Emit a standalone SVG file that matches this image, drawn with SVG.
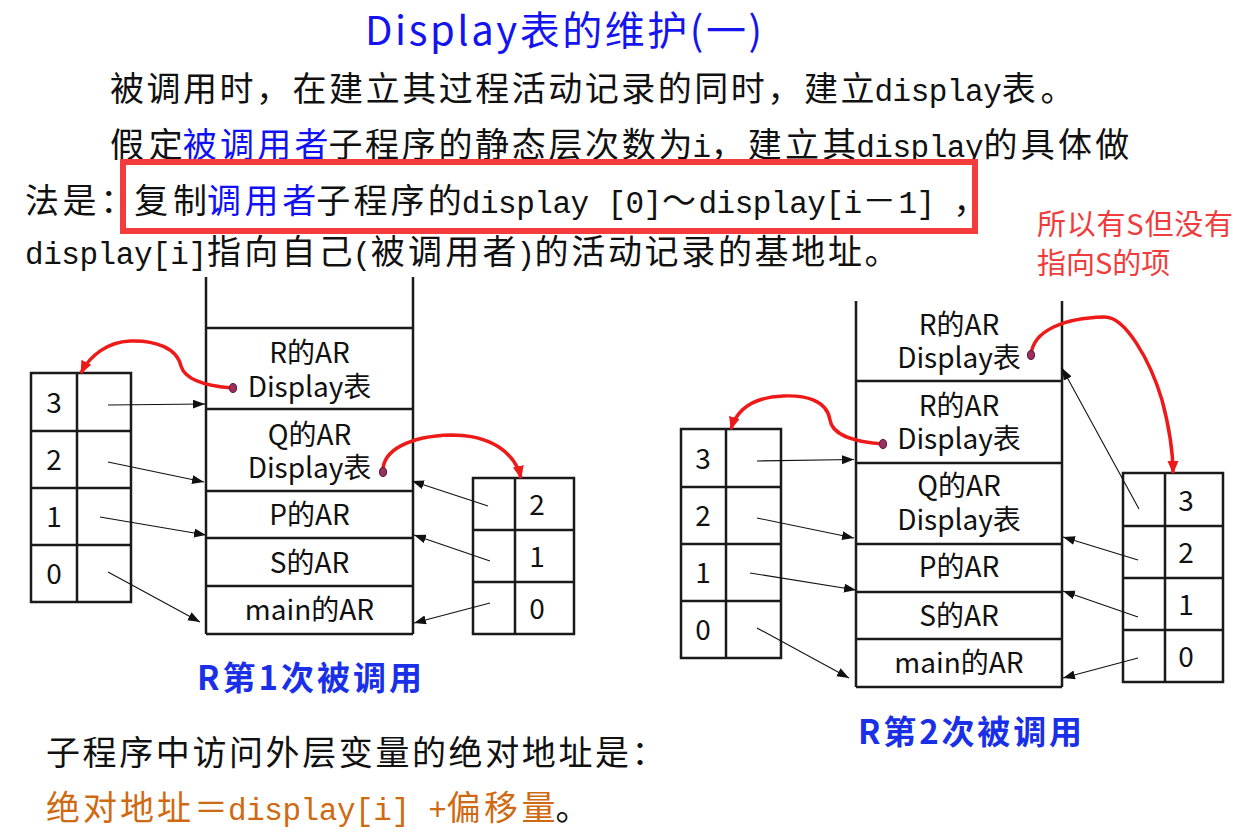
<svg xmlns="http://www.w3.org/2000/svg" width="1246" height="836" viewBox="0 0 1246 836">
  <style>
    .t { font-family: "Noto Sans CJK SC", "Noto Sans", sans-serif; font-size: 34px; fill: #111; }
    .m { font-family: "Liberation Mono", "DejaVu Sans Mono", monospace; font-size: 31px; fill: #111; }
    .blue { fill: #1010f4; }
    .orange { fill: #cf6a12; }
    .lbl { font-family: "Noto Sans CJK SC", "Noto Sans", sans-serif; font-size: 28px; fill: #111; text-anchor: middle; }
    .num { font-family: "Noto Sans CJK SC", "Noto Sans", sans-serif; font-size: 28px; fill: #111; text-anchor: middle; }
    .cap { font-family: "Noto Sans CJK SC", "Noto Sans", sans-serif; font-size: 33px; font-weight: bold; fill: #1a30e8; }
    .note { font-family: "Noto Sans CJK SC", "Noto Sans", sans-serif; font-size: 29px; fill: #f03c3c; }
    .frame { fill: none; stroke: #1a1a1a; stroke-width: 2.5; }
    .ptr { fill: none; stroke: #111; stroke-width: 1.1; marker-end: url(#ah); }
    .link { fill: none; stroke: #ee1a1a; stroke-width: 3.5; marker-end: url(#rah); }
    .dot { fill: #9b3060; stroke: #5b1535; stroke-width: 1; }
  </style>
  <defs>
    <marker id="ah" markerUnits="userSpaceOnUse" markerWidth="13" markerHeight="10" refX="12" refY="4.5" orient="auto">
      <path d="M0,0 L12,4.5 L0,9 z" fill="#111"/>
    </marker>
    <marker id="rah" markerUnits="userSpaceOnUse" markerWidth="14" markerHeight="12" refX="12" refY="5.5" orient="auto">
      <path d="M0,0 L13,5.5 L0,11 z" fill="#ee1a1a"/>
    </marker>
  </defs>

  <rect width="1246" height="836" fill="#fff"/>

  <!-- heading -->
  <text x="365" y="45" font-family="'Noto Sans CJK SC','Noto Sans',sans-serif" font-size="40" fill="#1414f0" textLength="397">Display表的维护(一)</text>

  <!-- explanatory paragraph -->
  <g id="para">
    <text class="t" x="110" y="101" textLength="764.4">被调用时，在建立其过程活动记录的同时，建立</text>
    <text class="m" x="874.4" y="101" textLength="127.4">display</text>
    <text class="t" x="1001.8" y="101" textLength="72.8">表。</text>

    <text class="t" x="110" y="157" textLength="72.8">假定</text>
    <text class="t blue" x="182.8" y="157" textLength="145.6">被调用者</text>
    <text class="t" x="328.4" y="157" textLength="364">子程序的静态层次数为</text>
    <text class="m" x="692.4" y="157">i</text>
    <text class="t" x="710.6" y="157" textLength="145.6">，建立其</text>
    <text class="m" x="856.2" y="157" textLength="127.4">display</text>
    <text class="t" x="983.6" y="157" textLength="145.6">的具体做</text>

    <rect x="123" y="162" width="852" height="69" fill="none" stroke="#f43c3c" stroke-width="6"/>

    <text class="t" x="25" y="213" textLength="109.2">法是：</text>
    <text class="t" x="134.2" y="213" textLength="72.8">复制</text>
    <text class="t blue" x="207" y="213" textLength="109.2">调用者</text>
    <text class="t" x="316.2" y="213" textLength="145.6">子程序的</text>
    <text class="m" x="461.8" y="213" textLength="127.4">display</text>
    <text class="m" x="607.4" y="213" textLength="54.6">[0]</text>
    <text class="t" x="662" y="213">～</text>
    <text class="m" x="698.4" y="213" textLength="163.8">display[i</text>
    <text class="t" x="862.2" y="213">－</text>
    <text class="m" x="898.6" y="213" textLength="36.4">1]</text>
    <text class="t" x="953.2" y="213">，</text>

    <text class="m" x="25" y="264" textLength="182">display[i]</text>
    <text class="t" x="207" y="264" textLength="145.6">指向自己</text>
    <text class="m" x="352.6" y="264">(</text>
    <text class="t" x="370.8" y="264" textLength="145.6">被调用者</text>
    <text class="m" x="516.4" y="264">)</text>
    <text class="t" x="534.6" y="264" textLength="364">的活动记录的基地址。</text>
  </g>

  <g id="note">
    <text class="note" x="1037" y="235" textLength="196">所以有S但没有</text>
    <text class="note" x="1037" y="274">指向S的项</text>
  </g>

  <!-- first call: stack -->
  <g id="stack1">
    <path class="frame" d="M206,277 V634 M413,277 V634 M206,328 H413 M206,409 H413 M206,491 H413 M206,538 H413 M206,586 H413 M206,634 H413"/>
    <text class="lbl" x="309.5" y="363">R的AR</text>
    <text class="lbl" x="309.5" y="397">Display表</text>
    <text class="lbl" x="309.5" y="445">Q的AR</text>
    <text class="lbl" x="309.5" y="478">Display表</text>
    <text class="lbl" x="309.5" y="525">P的AR</text>
    <text class="lbl" x="309.5" y="573">S的AR</text>
    <text class="lbl" x="309.5" y="620">main的AR</text>
  </g>

  <!-- first call: display of R -->
  <g id="disp1R">
    <path class="frame" d="M31,373 H131 V602 H31 Z M77,373 V602 M31,431 H131 M31,488 H131 M31,545 H131"/>
    <text class="num" x="54" y="413">3</text>
    <text class="num" x="54" y="470">2</text>
    <text class="num" x="54" y="527">1</text>
    <text class="num" x="54" y="584">0</text>
  </g>

  <!-- first call: display of Q -->
  <g id="disp1Q">
    <path class="frame" d="M473,478 H574 V634 H473 Z M515,478 V634 M473,530 H574 M473,582 H574"/>
    <text class="num" x="537" y="515">2</text>
    <text class="num" x="537" y="567">1</text>
    <text class="num" x="537" y="619">0</text>
  </g>

  <text id="cap1" class="cap" x="197" y="690" textLength="225">R第1次被调用</text>

  <!-- second call: stack -->
  <g id="stack2">
    <path class="frame" d="M856,301 V687 M1062,301 V687 M856,381 H1062 M856,463 H1062 M856,544 H1062 M856,592 H1062 M856,639 H1062 M856,687 H1062"/>
    <text class="lbl" x="959" y="335">R的AR</text>
    <text class="lbl" x="959" y="368">Display表</text>
    <text class="lbl" x="959" y="416">R的AR</text>
    <text class="lbl" x="959" y="449">Display表</text>
    <text class="lbl" x="959" y="496">Q的AR</text>
    <text class="lbl" x="959" y="530">Display表</text>
    <text class="lbl" x="959" y="577">P的AR</text>
    <text class="lbl" x="959" y="626">S的AR</text>
    <text class="lbl" x="959" y="673">main的AR</text>
  </g>

  <!-- second call: display of the first R -->
  <g id="disp2R1">
    <path class="frame" d="M681,429 H781 V658 H681 Z M726,429 V658 M681,487 H781 M681,544 H781 M681,601 H781"/>
    <text class="num" x="703" y="469">3</text>
    <text class="num" x="703" y="526">2</text>
    <text class="num" x="703" y="583">1</text>
    <text class="num" x="703" y="640">0</text>
  </g>

  <!-- second call: display of the second R -->
  <g id="disp2R2">
    <path class="frame" d="M1123,473 H1223 V682 H1123 Z M1165,473 V682 M1123,526 H1223 M1123,578 H1223 M1123,630 H1223"/>
    <text class="num" x="1186" y="511">3</text>
    <text class="num" x="1186" y="563">2</text>
    <text class="num" x="1186" y="615">1</text>
    <text class="num" x="1186" y="667">0</text>
  </g>

  <text id="cap2" class="cap" x="858" y="744" textLength="224">R第2次被调用</text>

  <!-- pointers and display links -->
  <g id="connectors">
    <line class="ptr" x1="108" y1="405" x2="205" y2="404"/>
    <line class="ptr" x1="108" y1="462" x2="204" y2="482"/>
    <line class="ptr" x1="100" y1="517" x2="206" y2="535"/>
    <line class="ptr" x1="108" y1="572" x2="200" y2="622"/>
    <line class="ptr" x1="488" y1="506" x2="412" y2="481"/>
    <line class="ptr" x1="490" y1="561" x2="414" y2="535"/>
    <line class="ptr" x1="490" y1="603" x2="414" y2="623"/>

    <line class="ptr" x1="757" y1="461" x2="854" y2="459.5"/>
    <line class="ptr" x1="757" y1="518" x2="854" y2="538"/>
    <line class="ptr" x1="750" y1="573" x2="856" y2="590"/>
    <line class="ptr" x1="757" y1="628" x2="849" y2="678"/>
    <line class="ptr" x1="1139" y1="509" x2="1062" y2="368"/>
    <line class="ptr" x1="1138" y1="560" x2="1063" y2="537"/>
    <line class="ptr" x1="1138" y1="617" x2="1063" y2="591"/>
    <line class="ptr" x1="1138" y1="658" x2="1063" y2="678"/>

    <path class="link" d="M233,388 C205,386 185,380 181,366 C177,348 155,340 130,341 C108,342 90,355 81,373"/>
    <path class="link" d="M383,472 C382,450 410,436 451,435 C490,435 515,452 521,478"/>
    <path class="link" d="M1031,355 C1033,330 1065,318 1104,317 C1125,316 1150,360 1162,400 C1170,430 1173,455 1173,473"/>
    <path class="link" d="M883,444 C855,442 832,435 830,420 C827,400 805,395 783,396 C760,397 738,405 731,429"/>

    <ellipse class="dot" cx="233" cy="388" rx="3.5" ry="4.5"/>
    <ellipse class="dot" cx="383" cy="472" rx="3.5" ry="4.5"/>
    <ellipse class="dot" cx="1031" cy="355" rx="3.5" ry="4.5"/>
    <ellipse class="dot" cx="883" cy="444" rx="3.5" ry="4.5"/>
  </g>

  <!-- closing remark -->
  <g id="formula">
    <text class="t" x="46" y="765" textLength="619.6">子程序中访问外层变量的绝对地址是：</text>
    <text class="t orange" x="46" y="820" textLength="182">绝对地址＝</text>
    <text class="m orange" x="228" y="820" textLength="182">display[i]</text>
    <text class="m orange" x="428.2" y="820">+</text>
    <text class="t orange" x="446.4" y="820" textLength="109.2">偏移量</text>
    <text class="t" x="555.6" y="820">。</text>
  </g>
</svg>
